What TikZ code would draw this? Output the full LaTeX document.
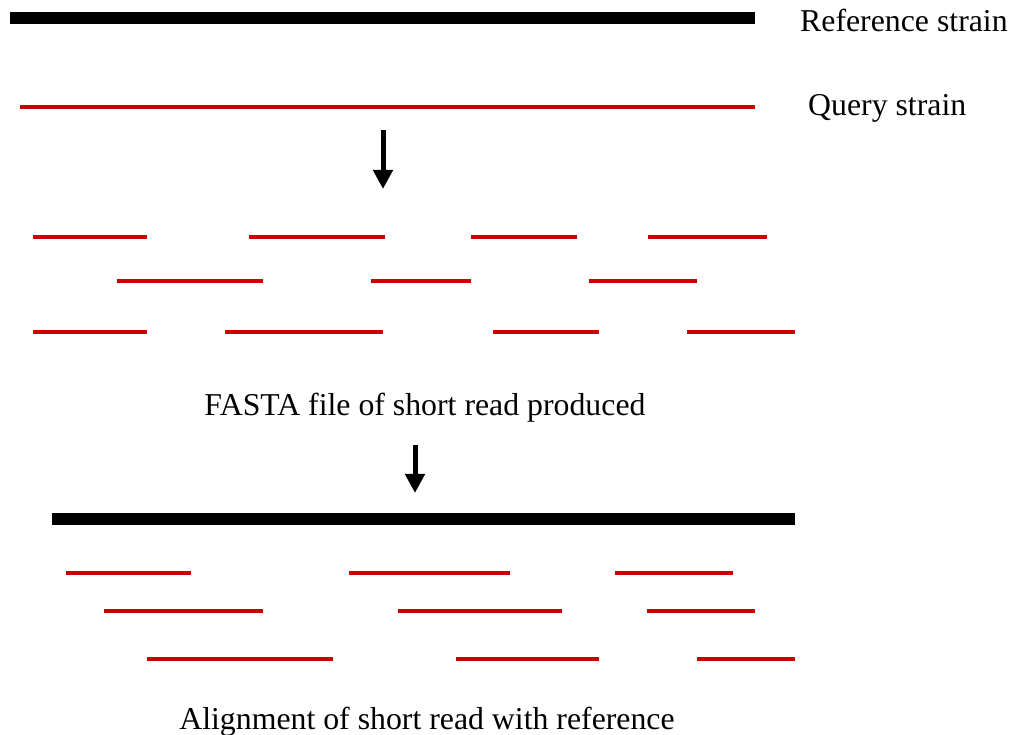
\documentclass[tikz,border=0pt]{standalone}
\usepackage{fontspec}
\setmainfont{Liberation Serif}
\usetikzlibrary{arrows.meta}
\definecolor{readred}{RGB}{204,0,0}
\begin{document}
\begin{tikzpicture}[x=1pt,y=-1pt,
  refline/.style={line width=12pt,black},
  readline/.style={line width=4pt,readred},
  lbl/.style={font=\fontsize{31.8}{36}\selectfont,inner sep=0pt,anchor=base west},
  clbl/.style={font=\fontsize{31.8}{36}\selectfont,inner sep=0pt,anchor=base},
  downarrow/.style={line width=5pt,-{Triangle[width=19pt,length=19pt]}}]
\useasboundingbox (0,0) rectangle (1013,735);
% strains
\draw[refline] (10,18) -- (755,18);
\draw[readline] (20,107) -- (755,107);
\node[lbl] (reflbl) at (800,32) {Reference strain};
\node[lbl] (qrylbl) at (808,116) {Query strain};
% arrow 1
\coordinate (a1s) at (383,130);
\coordinate (a1e) at (383,189);
\draw[downarrow] (a1s) -- (a1e);
% reads
\foreach \a/\b/\y in {33/147/237, 249/385/237, 471/577/237, 648/767/237,
                      117/263/281, 371/471/281, 589/697/281,
                      33/147/332, 225/383/332, 493/599/332, 687/795/332}
  \draw[readline] (\a,\y) -- (\b,\y);
\node[clbl] (fasta) at (425,416) {FASTA file of short read produced};
% arrow 2
\coordinate (a2s) at (415,445);
\coordinate (a2e) at (415,493);
\draw[downarrow] (a2s) -- (a2e);
% alignment
\draw[refline] (52,519) -- (795,519);
\foreach \a/\b/\y in {66/191/573, 349/510/573, 615/733/573,
                      104/263/611, 398/562/611, 647/755/611,
                      147/333/659, 456/599/659, 697/795/659}
  \draw[readline] (\a,\y) -- (\b,\y);
\node[clbl] (align) at (427,729) {Alignment of short read with reference};
\end{tikzpicture}
\end{document}
